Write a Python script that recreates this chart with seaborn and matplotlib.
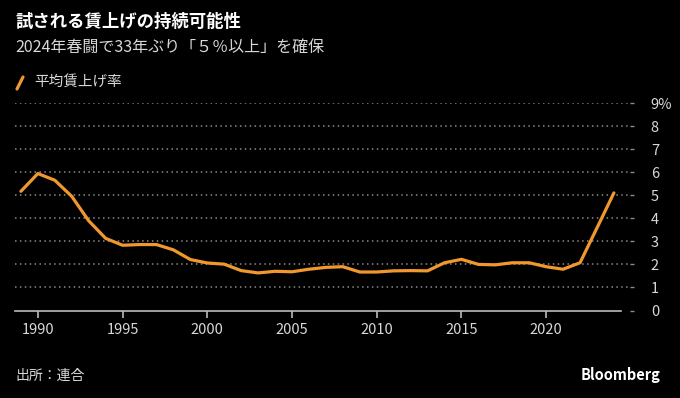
import pandas as pd
import matplotlib.pyplot as plt
import seaborn as sns
from matplotlib.lines import Line2D

# 連合 春闘 平均賃上げ率 (%)
years = list(range(1989, 2025))
wage_rise = [5.17, 5.94, 5.65, 4.95, 3.89, 3.13, 2.83, 2.86, 2.86, 2.63,
             2.21, 2.06, 2.01, 1.73, 1.63, 1.70, 1.68, 1.79, 1.87, 1.90,
             1.67, 1.67, 1.72, 1.73, 1.72, 2.07, 2.22, 2.00, 1.98, 2.07,
             2.07, 1.90, 1.79, 2.07, 3.58, 5.10]
y_ticks = list(range(0, 10))
y_labels = [str(v) for v in y_ticks[:-1]] + ['9%']
x_ticks = [1990, 1995, 2000, 2005, 2010, 2015, 2020]

df = pd.DataFrame({'year': years, 'rate': wage_rise})

sns.set_theme(style="dark")
plt.rcParams['font.family'] = ['Noto Sans CJK JP', 'DejaVu Sans']

bg = '#000000'
orange = '#F0982E'
txt = '#D8D8D8'
grid = '#8A8A8A'

fig = plt.figure(figsize=(6.8, 3.98), dpi=100, facecolor=bg)
ax = fig.add_axes([15 / 680, 1 - 310.5 / 398, (630 - 15) / 680, (310.5 - 103) / 398])
ax.set_facecolor(bg)

sns.lineplot(data=df, x='year', y='rate', color=orange, linewidth=2.3, ax=ax, legend=False)

ax.set_xlim(1988.65, 2024.95)
ax.set_ylim(0, 9)

for v in y_ticks[1:]:
    ax.axhline(v, color=grid, linestyle=(0, (1, 2.2)), linewidth=1.1, zorder=0)

for s in ['top', 'left', 'right']:
    ax.spines[s].set_visible(False)
ax.spines['bottom'].set_color('#BBBBBB')
ax.spines['bottom'].set_linewidth(1.2)
ax.spines['bottom'].set_bounds(1988.65, 2024.4)

ax.set_xticks(x_ticks)
ax.set_xticklabels([str(x) for x in x_ticks])
ax.tick_params(axis='x', colors='#BBBBBB', labelcolor=txt, length=5, width=1.2,
               direction='out', pad=4, labelsize=10.5, bottom=True)
ax.yaxis.tick_right()
ax.set_yticks(y_ticks)
ax.set_yticklabels(y_labels)
ax.tick_params(axis='y', colors=grid, labelcolor=txt, length=3, width=1,
               pad=12, labelsize=10.5, right=True)
for lab in ax.get_yticklabels():
    lab.set_horizontalalignment('left')
ax.set_xlabel('')
ax.set_ylabel('')
ax.grid(False)

fig.text(15 / 680, 1 - 22 / 398, '試される賃上げの持続可能性', color='white',
         fontsize=12.5, fontweight='bold', va='center', ha='left')
fig.text(15 / 680, 1 - 47 / 398, '2024年春闘で33年ぶり「５％以上」を確保', color=txt,
         fontsize=11.5, va='center', ha='left')
fig.add_artist(Line2D([17 / 680, 23 / 680], [1 - 89 / 398, 1 - 77 / 398],
                      color=orange, linewidth=2.3, transform=fig.transFigure))
fig.text(34 / 680, 1 - 82 / 398, '平均賃上げ率', color=txt, fontsize=10.5,
         va='center', ha='left')
fig.text(15 / 680, 1 - 376 / 398, '出所：連合', color=txt, fontsize=10,
         va='center', ha='left')
fig.text(660 / 680, 1 - 375 / 398, 'Bloomberg', color='white', fontsize=10.5,
         fontweight='bold', va='center', ha='right')

fig.savefig('out.png', dpi=100, facecolor=bg)
